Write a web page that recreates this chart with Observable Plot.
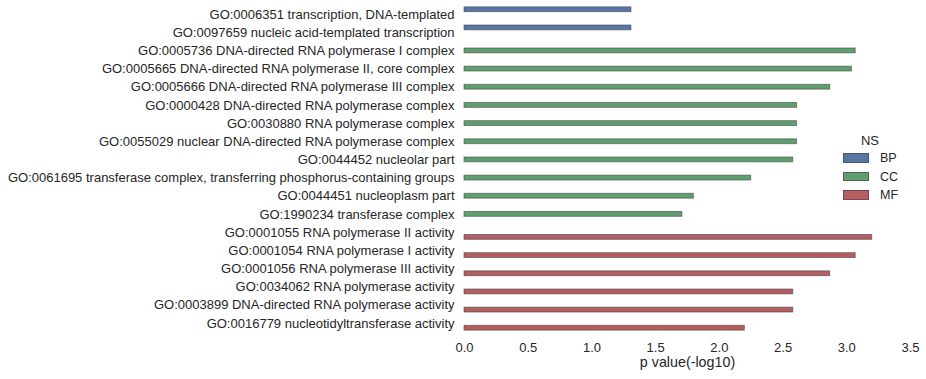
<!DOCTYPE html>
<html><head><meta charset="utf-8">
<script src="https://cdn.jsdelivr.net/npm/d3@7"></script>
<script src="https://cdn.jsdelivr.net/npm/@observablehq/plot@0.6"></script>
<style>
body{margin:0;background:#fff;}
#chart{position:relative;width:926px;height:379px;font-family:"Liberation Sans",Arial,sans-serif;color:#262626;}
#chart svg{display:block;}
.lg{position:absolute;font-family:"Liberation Sans",Arial,sans-serif;color:#262626;white-space:nowrap;}
.sw{position:absolute;box-sizing:border-box;}
</style></head>
<body><div id="chart"></div>
<script>
const terms = [
  "GO:0006351 transcription, DNA-templated",
  "GO:0097659 nucleic acid-templated transcription",
  "GO:0005736 DNA-directed RNA polymerase I complex",
  "GO:0005665 DNA-directed RNA polymerase II, core complex",
  "GO:0005666 DNA-directed RNA polymerase III complex",
  "GO:0000428 DNA-directed RNA polymerase complex",
  "GO:0030880 RNA polymerase complex",
  "GO:0055029 nuclear DNA-directed RNA polymerase complex",
  "GO:0044452 nucleolar part",
  "GO:0061695 transferase complex, transferring phosphorus-containing groups",
  "GO:0044451 nucleoplasm part",
  "GO:1990234 transferase complex",
  "GO:0001055 RNA polymerase II activity",
  "GO:0001054 RNA polymerase I activity",
  "GO:0001056 RNA polymerase III activity",
  "GO:0034062 RNA polymerase activity",
  "GO:0003899 DNA-directed RNA polymerase activity",
  "GO:0016779 nucleotidyltransferase activity"
];
const namespaces = ["BP","BP","CC","CC","CC","CC","CC","CC","CC","CC","CC","CC","MF","MF","MF","MF","MF","MF"];
const pvalues = [1.31,1.31,3.07,3.04,2.87,2.61,2.61,2.61,2.58,2.25,1.80,1.71,3.20,3.07,2.87,2.58,2.58,2.20];
const nsOrder = ["BP","CC","MF"];
const nsColors = ["#5975A4","#5F9E6E","#B55D60"];
const xTicks = [0,0.5,1,1.5,2,2.5,3,3.5];
const xLabel = "p value(-log10)";
const legendTitle = "NS";

const W = 926, H = 379, mt = 5, mb = 47, ml = 464, mr = 16;
const step = (H - mt - mb) / terms.length;
const sub = 0.8 * step / nsOrder.length;
const rows = terms.map((t, i) => ({term: t, ns: namespaces[i], p: pvalues[i]}));
const edge = "#3c3c3c";

const barMarks = nsOrder.map((ns, k) => Plot.barX(rows.filter(d => d.ns === ns), {
  x: "p", y: "term",
  fill: nsColors[k],
  stroke: edge,
  strokeOpacity: 0.55,
  strokeWidth: 1,
  insetTop: k * sub,
  insetBottom: (nsOrder.length - 1 - k) * sub
}));

const chart = Plot.plot({
  width: W, height: H,
  marginTop: mt, marginBottom: mb, marginLeft: ml, marginRight: mr,
  style: {fontFamily: "'Liberation Sans', Arial, sans-serif", fontSize: "13px", color: "#262626", background: "white"},
  x: {domain: [0, 3.5], label: null},
  y: {domain: terms, paddingInner: 0.2, paddingOuter: 0.1, round: false, label: null},
  marks: [
    ...barMarks,
    Plot.axisY({tickSize: 0, tickPadding: 10, label: null}),
    Plot.axisX({ticks: xTicks, tickFormat: d3.format(".1f"), tickSize: 0, tickPadding: 10, label: null}),
    Plot.text([xLabel], {text: d => d, frameAnchor: "bottom", dy: 34, fontSize: 14.3, fill: "#262626"})
  ]
});
const host = document.getElementById("chart");
host.appendChild(chart);

// legend
function add(el){ host.appendChild(el); return el; }
const t = document.createElement("div");
t.className = "lg"; t.textContent = legendTitle;
t.style.cssText += "left:850px;width:40px;text-align:center;top:133px;font-size:13px;line-height:16px;";
add(t);
nsOrder.forEach((ns, k) => {
  const top = 153 + k * 18.7;
  const s = document.createElement("div");
  s.className = "sw";
  s.style.cssText += `left:843px;top:${top}px;width:26px;height:9.5px;background:${nsColors[k]};border:1px solid rgba(60,60,60,0.55);`;
  add(s);
  const l = document.createElement("div");
  l.className = "lg"; l.textContent = ns;
  l.style.cssText += `left:880px;top:${top - 3}px;font-size:12.5px;line-height:16px;`;
  add(l);
});
</script>
</body></html>
